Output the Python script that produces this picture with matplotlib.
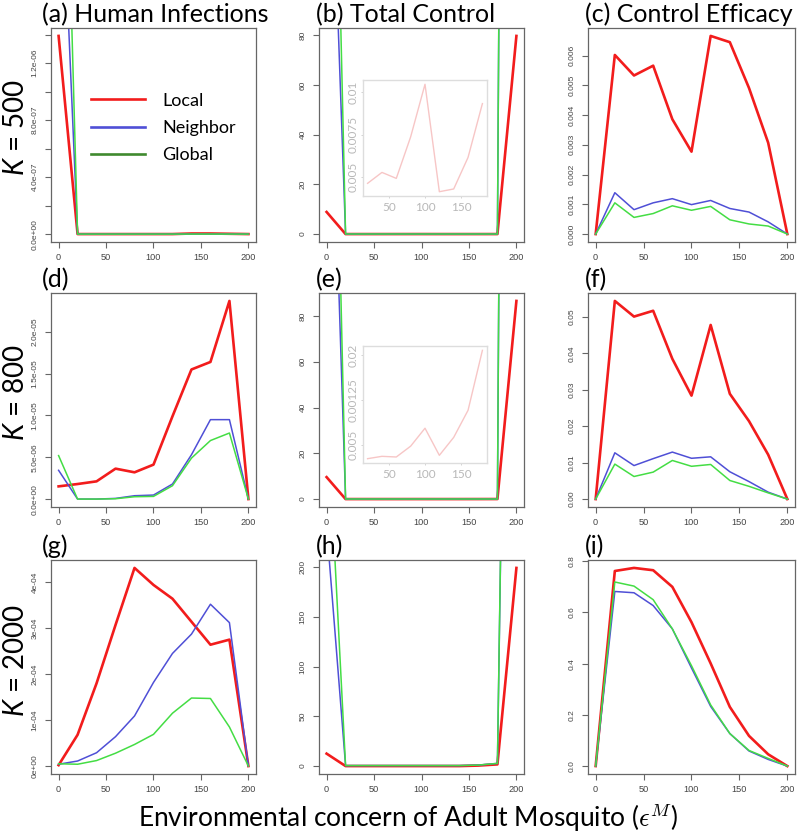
import matplotlib
matplotlib.use('Agg')
import matplotlib.pyplot as plt
from matplotlib.lines import Line2D

plt.rcParams['font.family'] = ['Lato', 'DejaVu Sans']
plt.rcParams['mathtext.fontset'] = 'custom'
plt.rcParams['mathtext.rm'] = 'Lato'
plt.rcParams['mathtext.it'] = 'Lato:italic'

# environmental concern of adult mosquito
eps = [0, 20, 40, 60, 80, 100, 120, 140, 160, 180, 200]

# K = 500
a_local = [1.39e-6, 0, 0, 0, 0, 0, 0, 4e-9, 4e-9, 2e-9, 0]
a_neighbor = [3.1e-6, 0, 0, 0, 0, 0, 0, 0, 0, 0, 0]
a_global = [4.8e-6, 0, 0, 0, 0, 0, 0, 0, 0, 0, 0]
b_local = [8.9, 0.00465, 0.00529, 0.00494, 0.00737, 0.01045, 0.00416, 0.00432, 0.00617, 0.00932, 79.7]
b_neighbor = [215, 0.02, 0.02, 0.02, 0.02, 0.02, 0.02, 0.02, 0.02, 0.02, 1150]
b_global = [331, 0.03, 0.03, 0.03, 0.03, 0.03, 0.03, 0.03, 0.03, 0.03, 1180]
c_local = [0, 0.00602, 0.00533, 0.00566, 0.00386, 0.00277, 0.00666, 0.00645, 0.00491, 0.00307, 0]
c_neighbor = [0, 0.00139, 0.00082, 0.00105, 0.00119, 0.00099, 0.00113, 0.00086, 0.00074, 0.00041, 0]
c_global = [0, 0.00105, 0.00056, 0.00069, 0.00095, 0.0008, 0.00093, 0.00048, 0.00034, 0.00027, 0]

# K = 800
d_local = [1.52e-6, 1.8e-6, 2.12e-6, 3.64e-6, 3.2e-6, 4.12e-6, 9.9e-6, 15.5e-6, 16.4e-6, 23.7e-6, 0]
d_neighbor = [3.44e-6, 0, 0, 0.08e-6, 0.4e-6, 0.48e-6, 1.8e-6, 5.3e-6, 9.5e-6, 9.5e-6, 0]
d_global = [5.2e-6, 0, 0, 0.04e-6, 0.28e-6, 0.32e-6, 1.6e-6, 4.9e-6, 7.0e-6, 7.9e-6, 0]
e_local = [9.6, 0.00274, 0.00313, 0.00302, 0.00483, 0.00783, 0.0033, 0.0063, 0.01083, 0.02085, 86.6]
e_neighbor = [258, 0.02, 0.02, 0.02, 0.02, 0.02, 0.02, 0.02, 0.02, 0.02, 1250]
e_global = [361, 0.03, 0.03, 0.03, 0.03, 0.03, 0.03, 0.03, 0.03, 0.03, 1290]
f_local = [0, 0.0544, 0.0501, 0.0517, 0.0385, 0.0284, 0.0478, 0.0289, 0.0214, 0.0122, 0]
f_neighbor = [0, 0.0127, 0.0092, 0.0111, 0.0129, 0.0112, 0.0116, 0.0075, 0.0048, 0.0019, 0]
f_global = [0, 0.0096, 0.0062, 0.0074, 0.0106, 0.009, 0.0095, 0.0051, 0.0035, 0.0017, 0]

# K = 2000
g_local = [0.02e-4, 0.68e-4, 1.8e-4, 3.07e-4, 4.31e-4, 3.94e-4, 3.64e-4, 3.14e-4, 2.64e-4, 2.75e-4, 0]
g_neighbor = [0.04e-4, 0.11e-4, 0.29e-4, 0.64e-4, 1.09e-4, 1.82e-4, 2.45e-4, 2.87e-4, 3.52e-4, 3.12e-4, 0]
g_global = [0.05e-4, 0.04e-4, 0.12e-4, 0.28e-4, 0.47e-4, 0.69e-4, 1.15e-4, 1.48e-4, 1.47e-4, 0.85e-4, 0]
h_local = [12.5, 0, 0, 0, 0, 0, 0, 0, 0.5, 1.7, 199]
h_neighbor = [241, 0.5, 0.5, 0.5, 0.5, 0.5, 0.5, 0.5, 1.0, 2.7, 1250]
h_global = [370, 0.5, 0.5, 0.5, 0.5, 0.5, 0.5, 0.5, 1.0, 2.7, 1280]
i_local = [0, 0.762, 0.774, 0.765, 0.70, 0.562, 0.401, 0.231, 0.118, 0.046, 0]
i_neighbor = [0, 0.682, 0.677, 0.627, 0.536, 0.383, 0.233, 0.127, 0.059, 0.026, 0]
i_global = [0, 0.719, 0.703, 0.65, 0.536, 0.392, 0.239, 0.127, 0.061, 0.03, 0]

# y ticks and their labels for each panel
a_ticks = [0, 2e-7, 4e-7, 6e-7, 8e-7, 1e-6, 1.2e-6, 1.4e-6]
a_labels = ['0.0e+00', '', '4.0e-07', '', '8.0e-07', '', '1.2e-06', '']
b_ticks = [0, 20, 40, 60, 80]
b_labels = ['0', '20', '40', '60', '80']
c_ticks = [0, 0.001, 0.002, 0.003, 0.004, 0.005, 0.006]
c_labels = ['0.000', '0.001', '0.002', '0.003', '0.004', '0.005', '0.006']
d_ticks = [0, 5e-6, 1e-5, 1.5e-5, 2e-5]
d_labels = ['0.0e+00', '5.0e-06', '1.0e-05', '1.5e-05', '2.0e-05']
e_ticks = [0, 20, 40, 60, 80]
e_labels = ['0', '20', '40', '60', '80']
f_ticks = [0, 0.01, 0.02, 0.03, 0.04, 0.05]
f_labels = ['0.00', '0.01', '0.02', '0.03', '0.04', '0.05']
g_ticks = [0, 1e-4, 2e-4, 3e-4, 4e-4]
g_labels = ['0e+00', '1e-04', '2e-04', '3e-04', '4e-04']
h_ticks = [0, 50, 100, 150, 200]
h_labels = ['0', '50', '100', '150', '200']
i_ticks = [0, 0.2, 0.4, 0.6, 0.8]
i_labels = ['0.0', '0.2', '0.4', '0.6', '0.8']
x_ticks = [0, 50, 100, 150, 200]

# inset of total control (local, middle values only)
inset_x = eps[1:-1]
inset_b_ticks = [0.005, 0.0075, 0.01]
inset_b_labels = ['0.005', '0.0075', '0.01']
inset_e_ticks = [0.005, 0.0125, 0.02]
inset_e_labels = ['0.005', '0.00125', '0.02']
inset_x_ticks = [50, 100, 150]

titles = ['(a) Human Infections', '(b) Total Control', '(c) Control Efficacy',
          '(d)', '(e)', '(f)', '(g)', '(h)', '(i)']
rows = ['$K$ = 500', '$K$ = 800', '$K$ = 2000']
series_names = ['Local', 'Neighbor', 'Global']

RED = '#f21c1c'
BLUE = '#4f4fd6'
GREEN = '#44dd44'
LEG_GREEN = '#3f8a2e'

panels = [
    (a_local, a_neighbor, a_global, a_ticks, a_labels),
    (b_local, b_neighbor, b_global, b_ticks, b_labels),
    (c_local, c_neighbor, c_global, c_ticks, c_labels),
    (d_local, d_neighbor, d_global, d_ticks, d_labels),
    (e_local, e_neighbor, e_global, e_ticks, e_labels),
    (f_local, f_neighbor, f_global, f_ticks, f_labels),
    (g_local, g_neighbor, g_global, g_ticks, g_labels),
    (h_local, h_neighbor, h_global, h_ticks, h_labels),
    (i_local, i_neighbor, i_global, i_ticks, i_labels),
]

W, H = 800, 836
fig = plt.figure(figsize=(W / 100, H / 100), dpi=100)

col_left = [51, 319, 588]
col_w = [205, 205, 207]
row_top = [28, 293, 560]
row_h = 214
title_x = [42, 316, 585]


def rlim(vals):
    # R style axis range: data range plus 4% each side
    lo, hi = min(vals), max(vals)
    pad = 0.04 * (hi - lo)
    return lo - pad, hi + pad


def style_r(ax, tick_color='#444444', spine_color='#666666', size=6.6, ylsize=6.0, length=4):
    for s in ax.spines.values():
        s.set_color(spine_color)
        s.set_linewidth(0.9)
    ax.tick_params(axis='both', direction='out', length=length, width=0.8,
                   colors=spine_color, labelcolor=tick_color)
    ax.tick_params(axis='x', labelsize=size, pad=4)
    ax.tick_params(axis='y', labelsize=ylsize, pad=5)
    for t in ax.get_xticklabels() + ax.get_yticklabels():
        t.set_family('Liberation Sans')
    for t in ax.get_yticklabels():
        t.set_rotation(90)
        t.set_va('center')


axes = []
for k, (loc, nbr, glb, yt, yl) in enumerate(panels):
    r, c = divmod(k, 3)
    left = col_left[c] / W
    bottom = 1 - (row_top[r] + row_h) / H
    ax = fig.add_axes([left, bottom, col_w[c] / W, row_h / H])
    ax.plot(eps, loc, color=RED, lw=1.9)
    ax.plot(eps, nbr, color=BLUE, lw=1.1)
    ax.plot(eps, glb, color=GREEN, lw=1.1)
    ax.set_xlim(rlim(eps))
    ax.set_ylim(rlim(loc))
    ax.set_xticks(x_ticks, [str(v) for v in x_ticks])
    ax.set_yticks(yt, yl)
    style_r(ax)
    fig.text(title_x[c] / W, 1 - (row_top[r] - 6) / H, titles[k],
             fontsize=18, va='baseline', ha='left')
    axes.append(ax)

# row labels
for r in range(3):
    fig.text(16 / W, 1 - (row_top[r] + row_h / 2 - 7) / H, rows[r],
             rotation=90, fontsize=20, ha='center', va='center')

# legend in panel (a)
handles = [Line2D([], [], color=RED, lw=1.9),
           Line2D([], [], color=BLUE, lw=1.9),
           Line2D([], [], color=LEG_GREEN, lw=1.9)]
axes[0].legend(handles, series_names, loc='upper left', bbox_to_anchor=(0.15, 0.74),
               frameon=False, fontsize=13, handlelength=3.0, handletextpad=0.95,
               labelspacing=0.62, borderpad=0)

# insets on total control
inset_specs = [(1, b_local, inset_b_ticks, inset_b_labels, 80, 196),
               (4, e_local, inset_e_ticks, inset_e_labels, 346, 463)]
for k, loc, yt, yl, top, bot in inset_specs:
    ins = fig.add_axes([363 / W, 1 - bot / H, 124 / W, (bot - top) / H])
    vals = loc[1:-1]
    ins.plot(inset_x, vals, color='#f7c6c6', lw=1.0)
    ins.set_xlim(rlim(inset_x))
    ins.set_ylim(rlim(vals))
    ins.set_xticks(inset_x_ticks, [str(v) for v in inset_x_ticks])
    ins.set_yticks(yt, yl)
    for s in ins.spines.values():
        s.set_color('#dddddd')
        s.set_linewidth(1.0)
    ins.tick_params(axis='both', length=1.5, width=0.6, colors='#cccccc',
                    labelcolor='#b8b8b8', labelsize=8.5)
    ins.tick_params(axis='x', pad=3)
    ins.tick_params(axis='y', pad=2)
    for t in ins.get_yticklabels():
        t.set_rotation(90)
        t.set_va('center')

fig.text(408 / W, 1 - 818 / H, r'Environmental concern of Adult Mosquito ($\epsilon^M$)',
         fontsize=19, ha='center', va='center', math_fontfamily='cm')

fig.savefig('out.png', dpi=100)
